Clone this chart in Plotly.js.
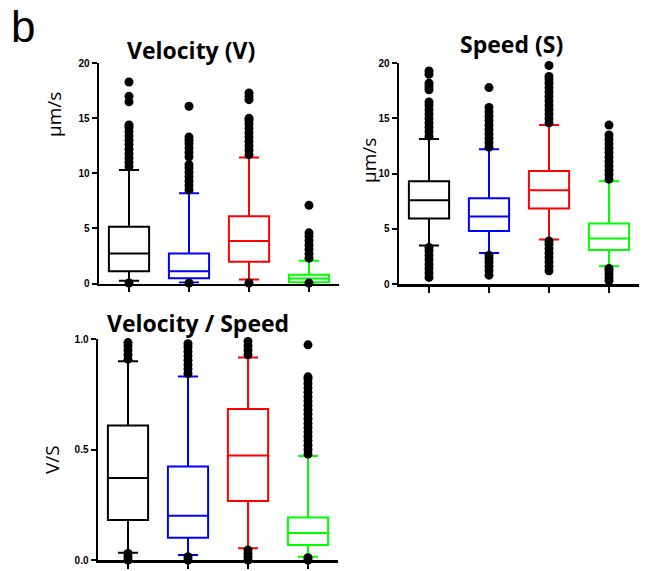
<!DOCTYPE html>
<html>
<head>
<meta charset="utf-8">
<script src="https://cdn.plot.ly/plotly-3.0.1.min.js"></script>
<style>html,body{margin:0;padding:0;background:#fff;}#chart{width:650px;height:571px;}</style>
</head>
<body>
<div id="chart"></div>
<script>
// Group positions (4 unlabeled conditions) and colours
const groupPos = [0, 1, 2, 3];
const groupColors = ['#000000', '#0000FF', '#FF0000', '#00FF00'];

// Panel 1: Velocity (V), µm/s
const velLower = [0.24, 0.10, 0.36, 0.05];
const velQ1    = [1.12, 0.48, 1.97, 0.12];
const velMed   = [2.73, 1.12, 3.85, 0.45];
const velQ3    = [5.15, 2.73, 6.10, 0.80];
const velUpper = [10.3, 8.2, 11.45, 2.06];
const velOutBlack = [0.05, 10.6, 11.0, 11.4, 11.8, 12.2, 12.6, 13.0, 13.4, 13.8, 14.2, 14.4, 16.5, 17.0, 18.3];
const velOutBlue  = [0.05, 8.5, 8.9, 9.3, 9.7, 10.1, 10.5, 10.8, 11.5, 11.9, 12.3, 12.7, 13.0, 13.3, 16.1];
const velOutRed   = [0.05, 11.7, 12.1, 12.5, 12.9, 13.3, 13.7, 14.1, 14.5, 14.8, 15.0, 16.7, 17.0, 17.3];
const velOutGreen = [0.05, 2.3, 2.7, 3.1, 3.5, 3.9, 4.3, 4.6, 7.1];

// Panel 2: Speed (S), µm/s
const spdLower = [3.5, 2.8, 4.04, 1.6];
const spdQ1    = [5.94, 4.8, 6.85, 3.08];
const spdMed   = [7.6, 6.12, 8.5, 4.13];
const spdQ3    = [9.32, 7.78, 10.23, 5.49];
const spdUpper = [13.15, 12.2, 14.4, 9.3];
const spdOutBlack = [0.6, 1.0, 1.4, 1.8, 2.2, 2.6, 3.0, 3.3, 13.4, 13.8, 14.2, 14.6, 15.0, 15.4, 15.8, 16.2, 16.5, 17.6, 17.9, 18.2, 19.0, 19.3];
const spdOutBlue  = [0.8, 1.2, 1.6, 2.0, 2.3, 2.6, 12.4, 12.8, 13.2, 13.6, 14.0, 14.4, 14.8, 15.2, 15.6, 16.0, 17.8];
const spdOutRed   = [1.2, 1.6, 2.0, 2.4, 2.8, 3.2, 3.6, 3.9, 14.6, 15.0, 15.4, 15.8, 16.2, 16.6, 17.0, 17.4, 17.8, 18.2, 18.5, 18.8, 19.8];
const spdOutGreen = [0.3, 0.6, 0.9, 1.2, 1.4, 9.5, 9.9, 10.3, 10.7, 11.1, 11.5, 11.9, 12.3, 12.7, 13.1, 13.5, 14.4];

// Panel 3: Velocity / Speed (V/S)
const ratLower = [0.033, 0.023, 0.053, 0.015];
const ratQ1    = [0.181, 0.101, 0.267, 0.068];
const ratMed   = [0.372, 0.200, 0.473, 0.122];
const ratQ3    = [0.609, 0.424, 0.684, 0.193];
const ratUpper = [0.900, 0.832, 0.918, 0.471];
const ratOutBlack = [0.0, 0.015, 0.03, 0.91, 0.93, 0.95, 0.97, 0.985];
const ratOutBlue  = [0.0, 0.015, 0.845, 0.865, 0.885, 0.905, 0.925, 0.945, 0.965, 0.98];
const ratOutRed   = [0.0, 0.015, 0.03, 0.045, 0.93, 0.95, 0.97, 0.99];
const ratOutGreen = [0.0, 0.01, 0.48, 0.50, 0.52, 0.54, 0.56, 0.58, 0.60, 0.62, 0.64, 0.66, 0.68, 0.70, 0.72, 0.74, 0.76, 0.78, 0.80, 0.82, 0.83, 0.975];

const W = 650, H = 571;
const px = v => v / W;
const py = v => (H - v) / H;

function panelTraces(xa, ya, lower, q1, med, q3, upper, outs) {
  const tr = [];
  groupPos.forEach((p, i) => {
    tr.push({
      type: 'box', x: [p], q1: [q1[i]], median: [med[i]], q3: [q3[i]],
      lowerfence: [lower[i]], upperfence: [upper[i]],
      xaxis: xa, yaxis: ya, width: 0.67, whiskerwidth: 0.5,
      line: {color: groupColors[i], width: 2}, fillcolor: 'rgba(255,255,255,0)',
      boxpoints: false, hoverinfo: 'skip'
    });
  });
  groupPos.forEach((p, i) => {
    tr.push({
      type: 'scatter', mode: 'markers', x: outs[i].map(() => p), y: outs[i],
      xaxis: xa, yaxis: ya, cliponaxis: false,
      marker: {color: '#000', size: 9}, hoverinfo: 'skip'
    });
  });
  return tr;
}

const data = [].concat(
  panelTraces('x', 'y', velLower, velQ1, velMed, velQ3, velUpper, [velOutBlack, velOutBlue, velOutRed, velOutGreen]),
  panelTraces('x2', 'y2', spdLower, spdQ1, spdMed, spdQ3, spdUpper, [spdOutBlack, spdOutBlue, spdOutRed, spdOutGreen]),
  panelTraces('x3', 'y3', ratLower, ratQ1, ratMed, ratQ3, ratUpper, [ratOutBlack, ratOutBlue, ratOutRed, ratOutGreen])
);

const tickFont = {family: 'Liberation Sans', size: 10, color: '#000', weight: 'bold'};
function xAx(l, r, anchor) {
  return {domain: [px(l), px(r)], range: [-0.5, 3.5], anchor: anchor, showline: true, linewidth: 2.5, linecolor: '#000',
    ticks: 'outside', tickvals: groupPos, ticklen: 6, tickwidth: 2, tickcolor: '#000', showticklabels: false,
    showgrid: false, zeroline: false, fixedrange: true};
}
function yAx(b, t, anchor, range, vals, texts) {
  return {domain: [py(b), py(t)], range: range, anchor: anchor, showline: true, linewidth: 2.5, linecolor: '#000',
    ticks: 'outside', tickvals: vals, ticktext: texts, ticklen: 5, tickwidth: 2, tickcolor: '#000',
    tickfont: tickFont, showgrid: false, zeroline: false, fixedrange: true};
}

const titleFont = {family: 'Open Sans', size: 23, color: '#000', weight: 'bold'};
const labFont = {family: 'Open Sans', size: 19, color: '#000'};

const layout = {
  width: W, height: H, margin: {l: 0, r: 0, t: 0, b: 0},
  paper_bgcolor: '#fff', plot_bgcolor: 'rgba(0,0,0,0)', showlegend: false,
  xaxis: xAx(99, 339, 'y'),
  yaxis: yAx(283.5, 63.3, 'x', [0, 20], [0, 5, 10, 15, 20], ['0', '5', '10', '15', '20']),
  xaxis2: xAx(399, 639, 'y2'),
  yaxis2: yAx(284, 63.3, 'x2', [0, 20], [0, 5, 10, 15, 20], ['0', '5', '10', '15', '20']),
  xaxis3: xAx(98, 338, 'y3'),
  yaxis3: yAx(560, 339.3, 'x3', [0, 1], [0, 0.5, 1], ['0.0', '0.5', '1.0']),
  annotations: [
    {text: 'b', xref: 'paper', yref: 'paper', x: px(9), y: py(0), xanchor: 'left', yanchor: 'top', showarrow: false,
      font: {family: 'Liberation Sans', size: 44, color: '#000'}},
    {text: 'Velocity (V)', xref: 'paper', yref: 'paper', x: px(191), y: py(50), xanchor: 'center', yanchor: 'middle', showarrow: false, font: titleFont},
    {text: 'Speed (S)', xref: 'paper', yref: 'paper', x: px(511), y: py(44), xanchor: 'center', yanchor: 'middle', showarrow: false, font: titleFont},
    {text: 'Velocity / Speed', xref: 'paper', yref: 'paper', x: px(198), y: py(323), xanchor: 'center', yanchor: 'middle', showarrow: false, font: titleFont},
    {text: 'µm/s', xref: 'paper', yref: 'paper', x: px(54), y: py(115), xanchor: 'center', yanchor: 'middle', textangle: -90, showarrow: false, font: labFont},
    {text: 'µm/s', xref: 'paper', yref: 'paper', x: px(369), y: py(161), xanchor: 'center', yanchor: 'middle', textangle: -90, showarrow: false, font: labFont},
    {text: 'V/S', xref: 'paper', yref: 'paper', x: px(52), y: py(460), xanchor: 'center', yanchor: 'middle', textangle: -90, showarrow: false, font: labFont}
  ]
};

Plotly.newPlot('chart', data, layout, {staticPlot: true, displayModeBar: false});
</script>
</body>
</html>
